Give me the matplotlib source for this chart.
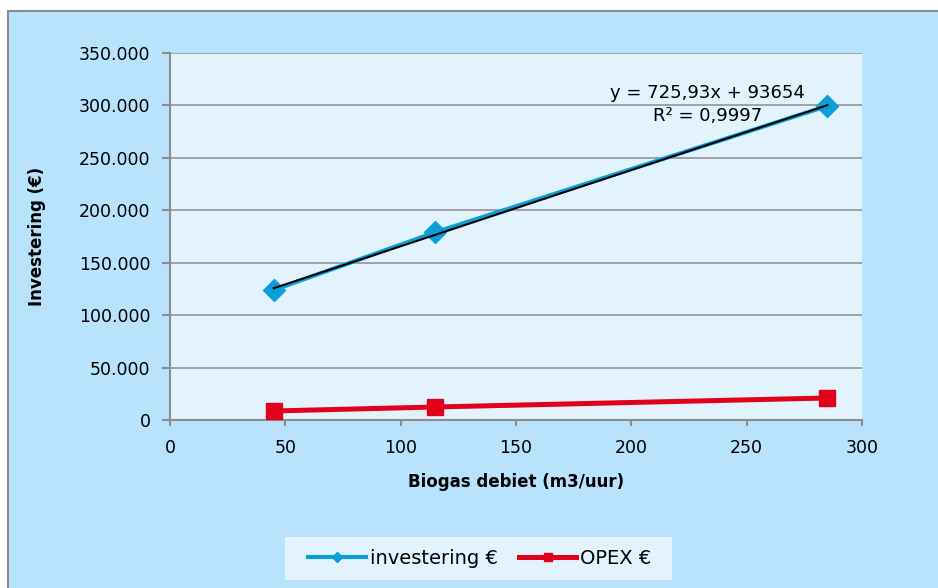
import numpy as np
import matplotlib
matplotlib.use("Agg")
import matplotlib.pyplot as plt
from matplotlib.ticker import FuncFormatter
from matplotlib.patches import Rectangle

debiet = [45, 115, 285]
investering = [124000, 179000, 299500]
opex = [8600, 12400, 21000]

blauw = '#0a9fd8'
rood = '#e3001b'
grijs = '#8c8c8c'
licht = '#e2f3fd'

plt.rcParams['font.family'] = ['DejaVu Sans']

fig = plt.figure(figsize=(9.38, 5.88), dpi=100)
fig.patch.set_facecolor('white')
# chart area with grey border (top/left visible)
rand = Rectangle((8/938, -0.01), 1, 1.01 - 11/588, transform=fig.transFigure,
                 facecolor='#b9e3fc', edgecolor=grijs, lw=1.5, zorder=-10)
fig.add_artist(rand)
# legend background
fig.add_artist(Rectangle((285/938, 8/588), 387/938, 43/588, transform=fig.transFigure,
                         facecolor=licht, edgecolor='none', zorder=-5))

ax = fig.add_axes([170/938, 168/588, 692/938, 367/588])
ax.set_zorder(1)
ax.set_facecolor(licht)

ax.plot(debiet, investering, color=blauw, lw=3, marker='D', ms=11, label='investering €', zorder=3)
ax.plot(debiet, opex, color=rood, lw=3.6, marker='s', ms=12, label='OPEX €', zorder=3)

coeff = np.polyfit(debiet, investering, 1)
xs = np.array([debiet[0], debiet[-1]])
ax.plot(xs, np.polyval(coeff, xs), color='black', lw=1.5, zorder=4)
ax.text(233, 300500, 'y = 725,93x + 93654\nR² = 0,9997', ha='center', va='center',
        fontsize=13, linespacing=1.35)

ax.set_xlim(0, 300)
ax.set_ylim(0, 350000)
ax.set_xticks(range(0, 301, 50))
ax.set_yticks(range(0, 350001, 50000))
ax.yaxis.set_major_formatter(FuncFormatter(lambda v, p: f'{int(v):,}'.replace(',', '.')))
ax.grid(axis='y', color=grijs, lw=1.1)
ax.set_axisbelow(True)
for s in ['top', 'right']:
    ax.spines[s].set_visible(False)
for s in ['left', 'bottom']:
    ax.spines[s].set_color(grijs)
    ax.spines[s].set_linewidth(1.5)
ax.tick_params(axis='both', colors=grijs, labelcolor='black', labelsize=12.5, width=1.5)
ax.tick_params(axis='x', length=4, pad=10)
ax.tick_params(axis='y', length=6, pad=8)

ax.set_xlabel('Biogas debiet (m3/uur)', fontsize=12, fontweight='bold', labelpad=11)
ax.set_ylabel('Investering (€)', fontsize=12, fontweight='bold', labelpad=24)

leg = ax.legend(loc='center', bbox_to_anchor=(480/938, 29.5/588), bbox_transform=fig.transFigure,
                ncol=2, frameon=False, fontsize=14, markerscale=0.45,
                handlelength=2.95, handletextpad=0.2, columnspacing=1.1, borderpad=0)

fig.savefig('out.png', dpi=100)
